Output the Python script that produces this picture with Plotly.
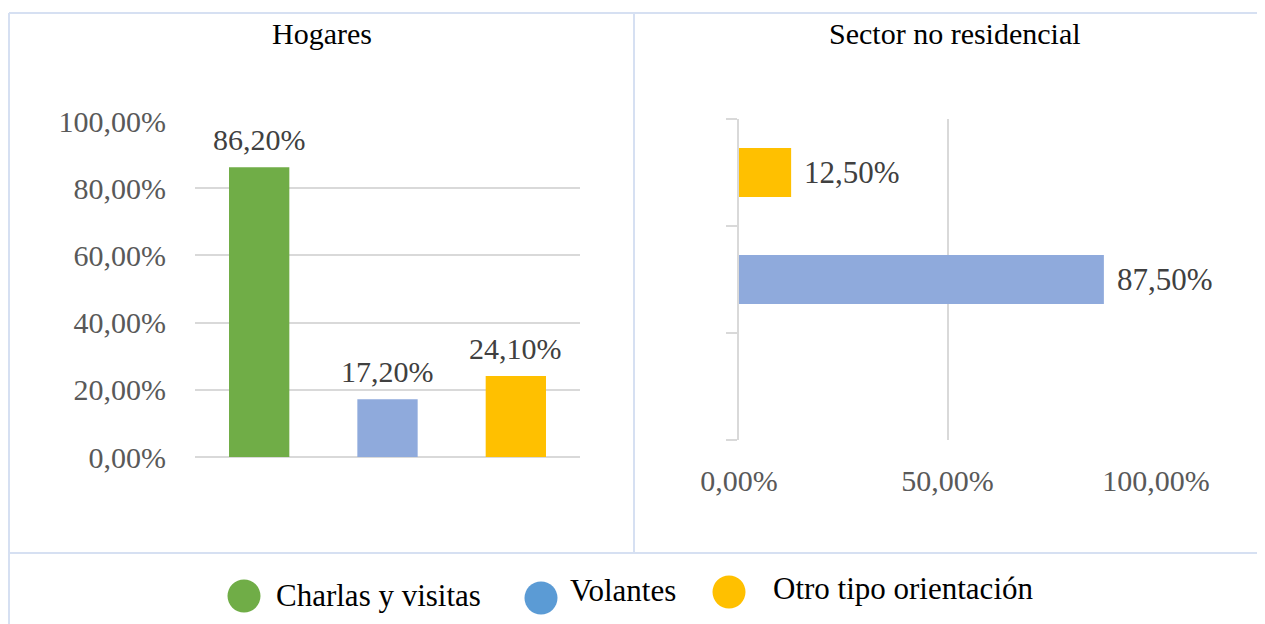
import plotly.graph_objects as go

# data
categories = ["Charlas y visitas", "Volantes", "Otro tipo orientación"]
hogares = [0.862, 0.172, 0.241]
sector = [None, 0.875, 0.125]
panel_titles = ["Hogares", "Sector no residencial"]
pct_ticks = [0, 0.2, 0.4, 0.6, 0.8, 1.0]
pct_ticks_h = [0, 0.5, 1.0]

bar_colors = ["#70AD47", "#8FAADC", "#FFC000"]
legend_colors = ["#70AD47", "#5B9BD5", "#FFC000"]

# page body has an 8px margin, so the figure is drawn 8px in from the window edge
OFF = 8
W, H = 1265 - OFF, 624 - OFF
FONT = "Liberation Serif, Times New Roman, serif"
GRID = "#D9D9D9"
BORDER = "#D6E0F2"


def px(x):
    # window pixel -> paper fraction
    return (x - OFF) / W


def py(y):
    return 1 - (y - OFF) / H


def pct(v):
    return f"{v * 100:.2f}%".replace(".", ",")


fig = go.Figure()

# left panel: vertical bars
fig.add_trace(
    go.Bar(
        x=categories,
        y=hogares,
        marker=dict(color=bar_colors, line=dict(width=0)),
        width=0.47,
        showlegend=False,
        xaxis="x",
        yaxis="y",
    )
)

# right panel: horizontal bars
fig.add_trace(
    go.Bar(
        x=sector,
        y=categories,
        orientation="h",
        marker=dict(color=bar_colors, line=dict(width=0)),
        width=0.46,
        showlegend=False,
        xaxis="x2",
        yaxis="y2",
    )
)

annotations = []
for cat, v in zip(categories, hogares):
    annotations.append(
        dict(
            x=cat, y=v, xref="x", yref="y", text=pct(v), showarrow=False,
            yanchor="bottom", yshift=9,
            font=dict(family=FONT, size=30, color="#404040"),
        )
    )
for cat, v in zip(categories, sector):
    if v is None:
        continue
    annotations.append(
        dict(
            x=v, y=cat, xref="x2", yref="y2", text=pct(v), showarrow=False,
            xanchor="left", xshift=11,
            font=dict(family=FONT, size=31, color="#404040"),
        )
    )

# panel titles
for title, cx in zip(panel_titles, [322, 955]):
    annotations.append(
        dict(
            x=px(cx), y=py(33), xref="paper", yref="paper", text=title,
            showarrow=False, xanchor="center", yanchor="middle",
            font=dict(family=FONT, size=30, color="black"),
        )
    )

# custom legend with round markers
shapes = []
legend_pos = [(244, 596, 274, 595), (541, 598, 568, 590), (729, 592, 771, 588)]
for name, col, (cx, cy, tx, ty) in zip(categories, legend_colors, legend_pos):
    r = 16.5
    shapes.append(
        dict(
            type="circle", xref="paper", yref="paper",
            x0=px(cx - r), x1=px(cx + r), y0=py(cy + r), y1=py(cy - r),
            fillcolor=col, line=dict(width=0),
        )
    )
    annotations.append(
        dict(
            x=px(tx), y=py(ty), xref="paper", yref="paper", text=name,
            showarrow=False, xanchor="left", yanchor="middle",
            font=dict(family=FONT, size=31, color="black"),
        )
    )

# panel borders
border = dict(color=BORDER, width=2)
shapes += [
    dict(type="line", xref="paper", yref="paper", x0=px(9), x1=1, y0=py(13), y1=py(13), line=border),
    dict(type="line", xref="paper", yref="paper", x0=px(9), x1=px(9), y0=py(13), y1=0, line=border),
    dict(type="line", xref="paper", yref="paper", x0=px(634), x1=px(634), y0=py(13), y1=py(553), line=border),
    dict(type="line", xref="paper", yref="paper", x0=px(9), x1=1, y0=py(553), y1=py(553), line=border),
]

fig.update_layout(
    width=W,
    height=H,
    margin=dict(l=0, r=0, t=0, b=0, autoexpand=False),
    paper_bgcolor="white",
    plot_bgcolor="white",
    separators=",.",
    font=dict(family=FONT, size=30, color="#595959"),
    showlegend=False,
    annotations=annotations,
    shapes=shapes,
    xaxis=dict(
        domain=[px(195), px(580)],
        type="category",
        categoryorder="array",
        categoryarray=categories,
        range=[-0.5, 2.5],
        showticklabels=False,
        showgrid=False,
        zeroline=False,
        showline=False,
        ticks="",
        automargin=False,
        fixedrange=True,
    ),
    yaxis=dict(
        domain=[py(457), py(121)],
        range=[0, 1],
        tickvals=pct_ticks,
        tickformat=".2%",
        gridcolor=GRID,
        gridwidth=1.5,
        zeroline=True,
        zerolinecolor=GRID,
        zerolinewidth=1.5,
        showline=False,
        ticklabelstandoff=28,
        tickfont=dict(family=FONT, size=30, color="#595959"),
        automargin=False,
        fixedrange=True,
    ),
    xaxis2=dict(
        domain=[px(739), px(1156)],
        anchor="y2",
        range=[0, 1],
        tickvals=pct_ticks_h,
        tickformat=".2%",
        gridcolor=GRID,
        gridwidth=1.5,
        zeroline=False,
        showline=False,
        ticklabelstandoff=20,
        tickfont=dict(family=FONT, size=30, color="#595959"),
        automargin=False,
        fixedrange=True,
    ),
    yaxis2=dict(
        domain=[py(440), py(119)],
        anchor="x2",
        type="category",
        categoryorder="array",
        categoryarray=categories,
        range=[-0.5, 2.5],
        showticklabels=False,
        showgrid=False,
        zeroline=False,
        showline=True,
        linecolor=GRID,
        linewidth=1.5,
        ticks="outside",
        tickson="boundaries",
        ticklen=11,
        tickcolor=GRID,
        tickwidth=1.5,
        automargin=False,
        fixedrange=True,
    ),
)

fig.write_html("out.html")
